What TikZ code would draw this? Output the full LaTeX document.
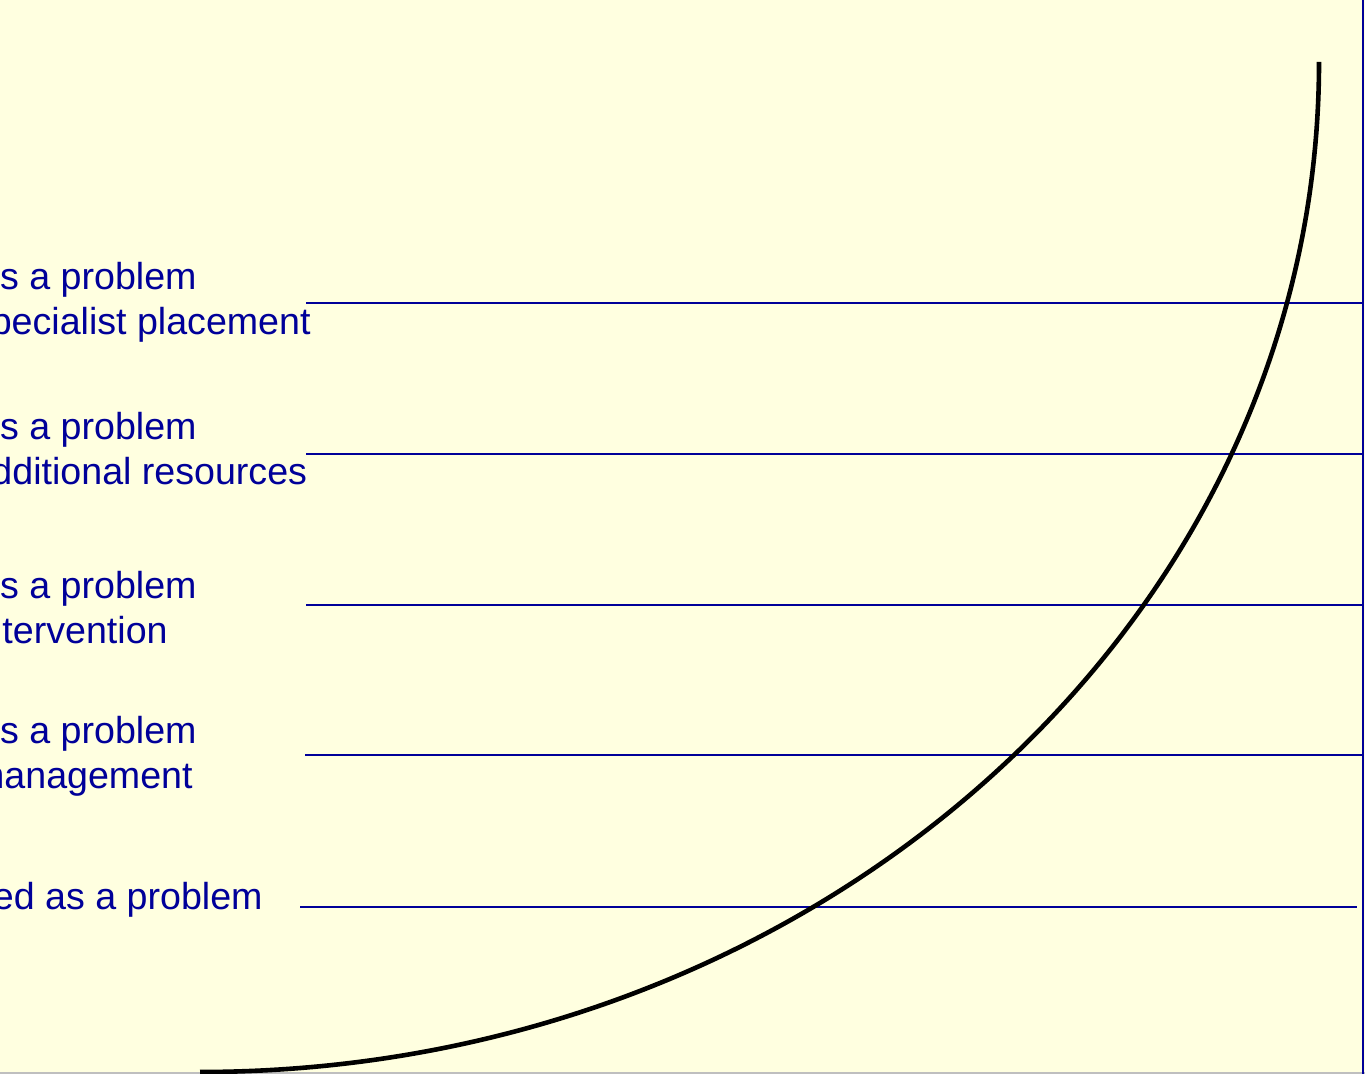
\documentclass[tikz,border=0pt]{standalone}
\usepackage{fontspec}
\setmainfont{Liberation Sans}
\definecolor{paper}{HTML}{FFFFE0}
\definecolor{ink}{HTML}{000099}

\begin{document}
\begin{tikzpicture}[x=0.5pt,y=-0.5pt,
  level/.style={draw=ink,line width=0.85pt},
  lab/.style={anchor=base east,inner sep=0pt,text=ink,
    font=\fontsize{18.8}{22.5}\selectfont}]
\useasboundingbox (0,0) rectangle (1365,1074);
\clip (0,0) rectangle (1365,1074);
\fill[paper] (0,0) rectangle (1365,1074);
\draw[gray!50,line width=1pt] (0,1073) -- (1365,1073);
\draw[ink,line width=1pt] (1363,0) -- (1363,1074);
% levels
\foreach \y/\x in {303/306,454/306,605/306,755/305}
  \draw[level] (\x,\y) -- (1363,\y);
\draw[level] (300,907) -- (1357,907);
% labels
\node[lab] (a1) at (197,290) {s a problem};
\node[lab] (a2) at (311,335) {specialist placement};
\node[lab] (b1) at (197,440) {s a problem};
\node[lab] (b2) at (307.5,485) {additional resources};
\node[lab] (c1) at (197,598) {s a problem};
\node[lab] (c2) at (168,643) {intervention};
\node[lab] (d1) at (197,743) {s a problem};
\node[lab] (d2) at (193,788) {management};
\node[lab] (e1) at (263,909) {ed as a problem};
% curve
\draw[line width=2.3pt] (200,1072) arc[start angle=90,end angle=0,x radius=1119,y radius=1010];
\end{tikzpicture}
\end{document}
